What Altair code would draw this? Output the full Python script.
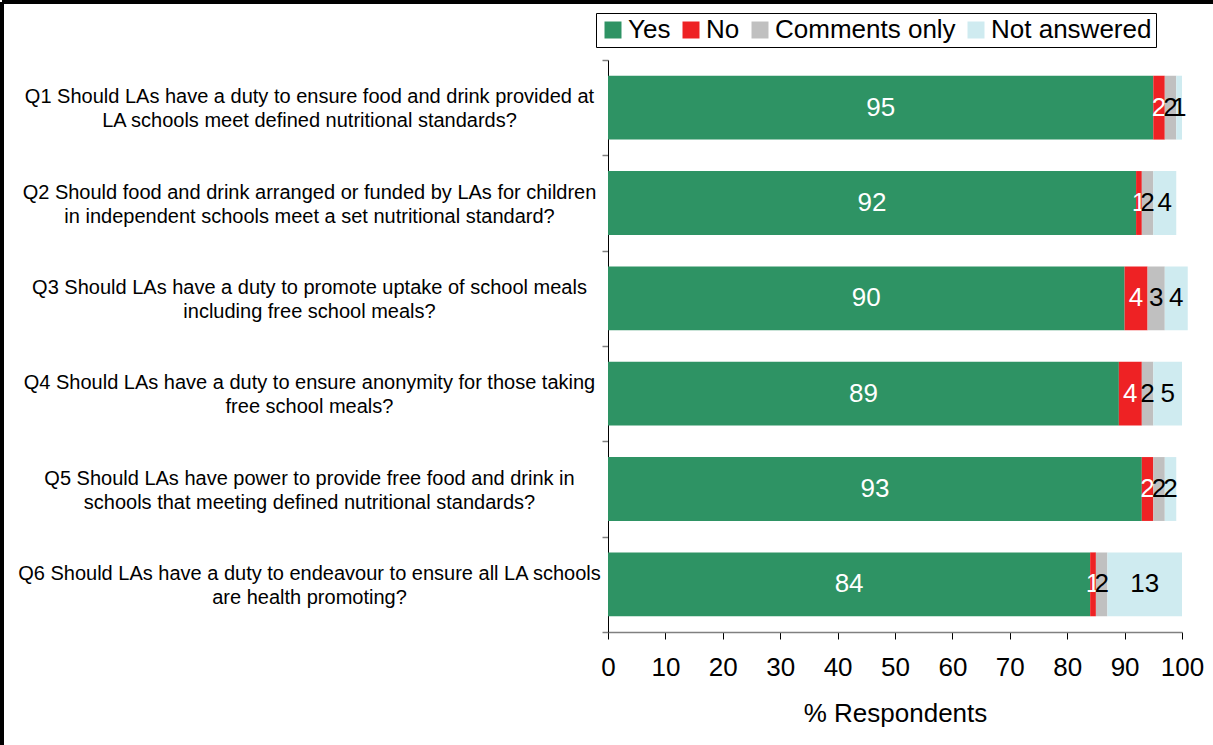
import altair as alt
import pandas as pd

questions = [
    "Q1 Should LAs have a duty to ensure food and drink provided at\nLA schools meet defined nutritional standards?",
    "Q2 Should food and drink arranged or funded by LAs for children\nin independent schools meet a set nutritional standard?",
    "Q3 Should LAs have a duty to promote uptake of school meals\nincluding free school meals?",
    "Q4 Should LAs have a duty to ensure anonymity for those taking\nfree school meals?",
    "Q5 Should LAs have power to provide free food and drink in\nschools that meeting defined nutritional standards?",
    "Q6 Should LAs have a duty to endeavour to ensure all LA schools\nare health promoting?",
]
responses = ["Yes", "No", "Comments only", "Not answered"]
yes_vals = [95, 92, 90, 89, 93, 84]
no_vals = [2, 1, 4, 4, 2, 1]
comments_vals = [2, 2, 3, 2, 2, 2]
not_answered_vals = [1, 4, 4, 5, 2, 13]
colors = ["#2E9364", "#EE2224", "#C0C0C0", "#CFEBF0"]
x_ticks = [0, 10, 20, 30, 40, 50, 60, 70, 80, 90, 100]

series = [yes_vals, no_vals, comments_vals, not_answered_vals]
rows = []
for qi, q in enumerate(questions):
    cum = 0
    for ri, r in enumerate(responses):
        v = series[ri][qi]
        rows.append({"Question": q, "Response": r, "value": v, "order": ri,
                     "start": cum, "end": cum + v, "mid": cum + v / 2})
        cum += v
df = pd.DataFrame(rows)

FONT = "Liberation Sans"

y_enc = alt.Y(
    "Question:N", sort=questions, title=None,
    scale=alt.Scale(paddingInner=0, paddingOuter=0),
    axis=alt.Axis(
        labelExpr="split(datum.label, '\\n')",
        labelAlign="center", labelBaseline="middle",
        labelPadding=293, labelOffset=-11, labelFont=FONT, labelFontSize=20,
        labelLineHeight=24, labelColor="black", labelLimit=0,
        domainColor="black", domainWidth=1,
        tickColor="#808080", tickSize=6, tickWidth=1.5, tickBand="extent",
    ),
)

bars = alt.Chart(df).mark_bar(height=alt.RelativeBandSize(band=0.67)).encode(
    y=y_enc,
    x=alt.X("start:Q", scale=alt.Scale(domain=[0, 100], nice=False),
            title="% Respondents",
            axis=alt.Axis(values=x_ticks, labelFont=FONT, labelFontSize=26,
                          labelColor="black", labelPadding=15, labelFlush=False,
                          titleFont=FONT, titleFontSize=26, titleFontWeight="normal",
                          titleColor="black", titlePadding=20,
                          domainColor="#808080", domainWidth=1.5,
                          tickColor="black", tickSize=7, tickWidth=1, grid=False)),
    x2="end:Q",
    color=alt.Color("Response:N", sort=responses,
                    scale=alt.Scale(domain=responses, range=colors),
                    legend=alt.Legend(
                        title=None, orient="none", direction="horizontal",
                        legendX=-12, legendY=-47,
                        symbolType="square", symbolSize=289, symbolStrokeWidth=0,
                        symbolOpacity=1,
                        labelFont=FONT, labelFontSize=26, labelColor="black",
                        labelOffset=2, columnPadding=7, labelLimit=0,
                        strokeColor="black", padding=4, fillColor="white",
                    )),
    order=alt.Order("order:Q"),
)

labels = alt.Chart(df).mark_text(font=FONT, fontSize=26, baseline="middle", align="center").encode(
    y=alt.Y("Question:N", sort=questions),
    x=alt.X("mid:Q"),
    text=alt.Text("value:Q"),
    color=alt.condition("datum.Response == 'Yes' || datum.Response == 'No'",
                        alt.value("white"), alt.value("black")),
)

border_top = alt.Chart(df).mark_rule(color="black", strokeWidth=2.5).encode(
    x=alt.value(-606), x2=alt.value(620), y=alt.value(-58)
)
border_left = alt.Chart(df).mark_rule(color="black", strokeWidth=2.5).encode(
    x=alt.value(-606), y=alt.value(-58), y2=alt.value(700)
)

chart = alt.layer(bars, labels, border_top, border_left).properties(
    width=574, height=572,
    padding={"left": 608, "top": 60, "right": 31, "bottom": 113},
    autosize=alt.AutoSizeParams(type="none"),
    background="white",
).configure_view(stroke=None)

chart.save("out.html", embed_options={"renderer": "svg", "actions": False})
